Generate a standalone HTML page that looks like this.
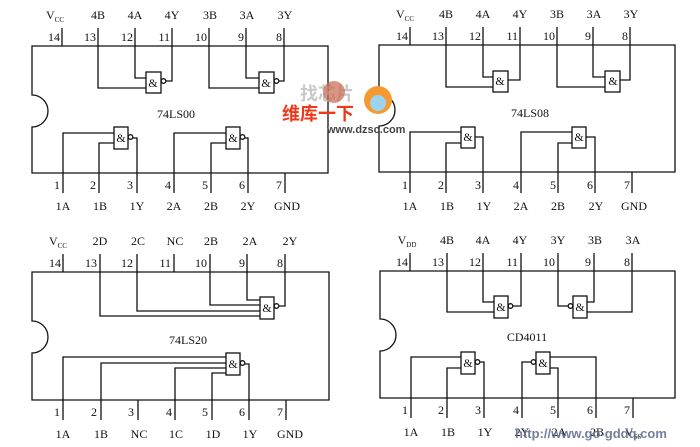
<!DOCTYPE html>
<html><head><meta charset="utf-8"><style>
html,body{margin:0;padding:0;background:#fff;}
svg{display:block;}
text{font-family:"Liberation Serif",serif;font-size:12px;fill:#111;}
.n{text-anchor:end;}
.c{text-anchor:middle;}
</style></head><body>
<svg width="700" height="447" viewBox="0 0 700 447" xmlns="http://www.w3.org/2000/svg">
<g stroke="#111" stroke-width="1.3" fill="none">
<!-- Panel 1 -->
<path d="M32 46 H328 V173 H32 V127 A16 16 0 0 0 32 95 Z"/>
<path d="M62 28V46M98 28V46M135 28V46M172 28V46M209 28V46M246 28V46M284 28V46"/>
<path d="M63 173V193M99 173V193M137 173V193M174 173V193M211 173V193M248 173V193M285 173V193"/>
<rect x="146" y="72" width="15" height="21"/><circle cx="163.5" cy="81" r="2.3"/>
<path d="M135 46V78H146M98 46V88H146M166 81H172V46"/>
<rect x="259" y="72" width="15" height="21"/><circle cx="276.5" cy="81" r="2.3"/>
<path d="M246 46V78H259M209 46V88H259M279 81H284V46"/>
<rect x="114" y="127" width="14" height="22"/><circle cx="130.5" cy="137" r="2.3"/>
<path d="M63 173V133H114M99 173V143H114M133 138H137V173"/>
<rect x="226" y="127" width="14" height="22"/><circle cx="242.5" cy="137" r="2.3"/>
<path d="M174 173V133H226M211 173V143H226M245 138H248V173"/>
<!-- Panel 2 -->
<path d="M379 45 H675 V172 H379 V126 A16 16 0 0 0 379 94 Z"/>
<path d="M410 27V45M446 27V45M483 27V45M520 27V45M557 27V45M593 27V45M630 27V45"/>
<path d="M410 172V193M446 172V193M483 172V193M521 172V193M558 172V193M595 172V193M632 172V193"/>
<rect x="493" y="71" width="15" height="21"/>
<path d="M483 45V77H493M446 45V87H493M508 80H520V45"/>
<rect x="605" y="71" width="15" height="21"/>
<path d="M593 45V77H605M557 45V87H605M620 80H630V45"/>
<rect x="461" y="127" width="14" height="21"/>
<path d="M410 172V132H461M446 172V143H461M475 137H483V172"/>
<rect x="572" y="127" width="14" height="21"/>
<path d="M521 172V132H572M558 172V143H572M586 137H595V172"/>
<!-- Panel 3 -->
<path d="M32 272 H329 V400 H32 V353 A16 16 0 0 0 32 321 Z"/>
<path d="M63 254V272M100 254V272M137 254V272M174 254V272M210 254V272M247 254V272M285 254V272"/>
<path d="M63 400V420M101 400V420M138 400V420M175 400V420M212 400V420M249 400V420M286 400V420"/>
<rect x="260" y="297" width="14" height="22"/><circle cx="276.5" cy="306" r="2.3"/>
<path d="M247 272V300H260M210 272V305H260M137 272V311H260M100 272V316H260M279 306H285V272"/>
<rect x="226" y="353" width="14" height="22"/><circle cx="242.5" cy="363" r="2.3"/>
<path d="M63 400V357H226M101 400V363H226M175 400V368H226M212 400V373H226M245 364H249V400"/>
<!-- Panel 4 -->
<path d="M380 271 H675 V398 H380 V351 A16 16 0 0 0 380 319 Z"/>
<path d="M410 253V271M447 253V271M483 253V271M521 253V271M558 253V271M594 253V271M632 253V271"/>
<path d="M411 398V418M447 398V418M484 398V418M522 398V418M558 398V418M596 398V418M633 398V418"/>
<rect x="494" y="296" width="14" height="22"/><circle cx="510.5" cy="306" r="2.3"/>
<path d="M483 271V302H494M447 271V312H494M513 306H521V271"/>
<rect x="573" y="296" width="14" height="22"/><circle cx="570.5" cy="306" r="2.3"/>
<path d="M594 271V302H587M632 271V312H587M568 306H558V271"/>
<rect x="461" y="352" width="14" height="22"/><circle cx="477.5" cy="362" r="2.3"/>
<path d="M411 398V357H461M447 398V368H461M480 362H484V398"/>
<rect x="536" y="352" width="14" height="22"/><circle cx="533.5" cy="362" r="2.3"/>
<path d="M596 398V357H550M558 398V368H550M531 362H522V398"/>
</g>
<!-- Panel 1 text -->
<text x="55" y="19" class="c">V<tspan font-size="7" dy="3">CC</tspan></text>
<text x="98" y="19" class="c">4B</text><text x="135" y="19" class="c">4A</text><text x="172" y="19" class="c">4Y</text>
<text x="210" y="19" class="c">3B</text><text x="247" y="19" class="c">3A</text><text x="285" y="19" class="c">3Y</text>
<text x="60" y="41" class="n">14</text><text x="96" y="41" class="n">13</text><text x="133" y="41" class="n">12</text><text x="170" y="41" class="n">11</text><text x="207" y="41" class="n">10</text><text x="244" y="41" class="n">9</text><text x="282" y="41" class="n">8</text>
<text x="60" y="189" class="n">1</text><text x="96" y="189" class="n">2</text><text x="133" y="189" class="n">3</text><text x="171" y="189" class="n">4</text><text x="208" y="189" class="n">5</text><text x="245" y="189" class="n">6</text><text x="282" y="189" class="n">7</text>
<text x="63" y="210" class="c">1A</text><text x="100" y="210" class="c">1B</text><text x="137" y="210" class="c">1Y</text><text x="174" y="210" class="c">2A</text><text x="211" y="210" class="c">2B</text><text x="248" y="210" class="c">2Y</text><text x="287" y="210" class="c">GND</text>
<text x="176" y="118" class="c">74LS00</text>
<text x="153" y="87" class="c" font-size="11">&amp;</text><text x="266" y="87" class="c" font-size="11">&amp;</text>
<text x="121" y="142" class="c" font-size="11">&amp;</text><text x="233" y="142" class="c" font-size="11">&amp;</text>
<!-- Panel 2 text -->
<text x="405" y="18" class="c">V<tspan font-size="7" dy="3">CC</tspan></text>
<text x="446" y="18" class="c">4B</text><text x="483" y="18" class="c">4A</text><text x="520" y="18" class="c">4Y</text>
<text x="557" y="18" class="c">3B</text><text x="594" y="18" class="c">3A</text><text x="631" y="18" class="c">3Y</text>
<text x="408" y="40" class="n">14</text><text x="444" y="40" class="n">13</text><text x="481" y="40" class="n">12</text><text x="518" y="40" class="n">11</text><text x="555" y="40" class="n">10</text><text x="591" y="40" class="n">9</text><text x="628" y="40" class="n">8</text>
<text x="408" y="189" class="n">1</text><text x="444" y="189" class="n">2</text><text x="481" y="189" class="n">3</text><text x="519" y="189" class="n">4</text><text x="556" y="189" class="n">5</text><text x="593" y="189" class="n">6</text><text x="630" y="189" class="n">7</text>
<text x="410" y="210" class="c">1A</text><text x="447" y="210" class="c">1B</text><text x="484" y="210" class="c">1Y</text><text x="521" y="210" class="c">2A</text><text x="558" y="210" class="c">2B</text><text x="596" y="210" class="c">2Y</text><text x="634" y="210" class="c">GND</text>
<text x="530" y="117" class="c">74LS08</text>
<text x="500" y="85" class="c" font-size="11">&amp;</text><text x="613" y="85" class="c" font-size="11">&amp;</text>
<text x="468" y="141" class="c" font-size="11">&amp;</text><text x="579" y="141" class="c" font-size="11">&amp;</text>
<!-- Panel 3 text -->
<text x="58" y="245" class="c">V<tspan font-size="7" dy="3">CC</tspan></text>
<text x="100" y="245" class="c">2D</text><text x="138" y="245" class="c">2C</text><text x="175" y="245" class="c">NC</text>
<text x="211" y="245" class="c">2B</text><text x="250" y="245" class="c">2A</text><text x="290" y="245" class="c">2Y</text>
<text x="61" y="267" class="n">14</text><text x="97" y="267" class="n">13</text><text x="133" y="267" class="n">12</text><text x="171" y="267" class="n">11</text><text x="207" y="267" class="n">10</text><text x="245" y="267" class="n">9</text><text x="283" y="267" class="n">8</text>
<text x="60" y="416" class="n">1</text><text x="97" y="416" class="n">2</text><text x="134" y="416" class="n">3</text><text x="172" y="416" class="n">4</text><text x="208" y="416" class="n">5</text><text x="245" y="416" class="n">6</text><text x="283" y="416" class="n">7</text>
<text x="63" y="438" class="c">1A</text><text x="101" y="438" class="c">1B</text><text x="139" y="438" class="c">NC</text><text x="176" y="438" class="c">1C</text><text x="213" y="438" class="c">1D</text><text x="250" y="438" class="c">1Y</text><text x="290" y="438" class="c">GND</text>
<text x="188" y="344" class="c">74LS20</text>
<text x="267" y="312" class="c" font-size="11">&amp;</text><text x="233" y="368" class="c" font-size="11">&amp;</text>
<!-- Panel 4 text -->
<text x="407" y="244" class="c">V<tspan font-size="7" dy="3">DD</tspan></text>
<text x="447" y="244" class="c">4B</text><text x="483" y="244" class="c">4A</text><text x="520" y="244" class="c">4Y</text>
<text x="558" y="244" class="c">3Y</text><text x="595" y="244" class="c">3B</text><text x="633" y="244" class="c">3A</text>
<text x="408" y="266" class="n">14</text><text x="444" y="266" class="n">13</text><text x="481" y="266" class="n">12</text><text x="518" y="266" class="n">11</text><text x="555" y="266" class="n">10</text><text x="591" y="266" class="n">9</text><text x="630" y="266" class="n">8</text>
<text x="408" y="414" class="n">1</text><text x="444" y="414" class="n">2</text><text x="481" y="414" class="n">3</text><text x="519" y="414" class="n">4</text><text x="556" y="414" class="n">5</text><text x="593" y="414" class="n">6</text><text x="630" y="414" class="n">7</text>
<text x="411" y="436" class="c">1A</text><text x="448" y="436" class="c">1B</text><text x="485" y="436" class="c">1Y</text><text x="522" y="436" class="c">2Y</text><text x="559" y="436" class="c">2A</text><text x="597" y="436" class="c">2B</text><text x="633" y="436" class="c">V<tspan font-size="7" dy="3">SS</tspan></text>
<text x="527" y="341" class="c">CD4011</text>
<text x="501" y="311" class="c" font-size="11">&amp;</text><text x="580" y="311" class="c" font-size="11">&amp;</text>
<text x="468" y="367" class="c" font-size="11">&amp;</text><text x="543" y="367" class="c" font-size="11">&amp;</text>
<!-- watermarks -->
<text x="300" y="100" style="font-family:'Noto Sans CJK SC',sans-serif;font-size:18px;fill:#c8c8c8;font-weight:bold">找芯片</text>
<circle cx="334" cy="92" r="11" fill="#c96a50" opacity="0.7"/>
<text x="282" y="120" style="font-family:'Noto Sans CJK SC',sans-serif;font-size:18px;fill:#f03818;font-weight:bold">维库一下</text>
<text x="327" y="133" style="font-family:'Liberation Sans',sans-serif;font-size:11px;fill:#444;font-weight:bold">www.dzsc.com</text>
<circle cx="378" cy="100" r="14" fill="#f59a30"/>
<circle cx="378" cy="103" r="8" fill="#9cd3f0"/>
<text x="515" y="438" style="font-family:'Liberation Sans',sans-serif;font-size:13px;fill:#5a6a8a;font-weight:bold;opacity:0.85">http://www.go-gddq.com</text>
</svg>
</body></html>
